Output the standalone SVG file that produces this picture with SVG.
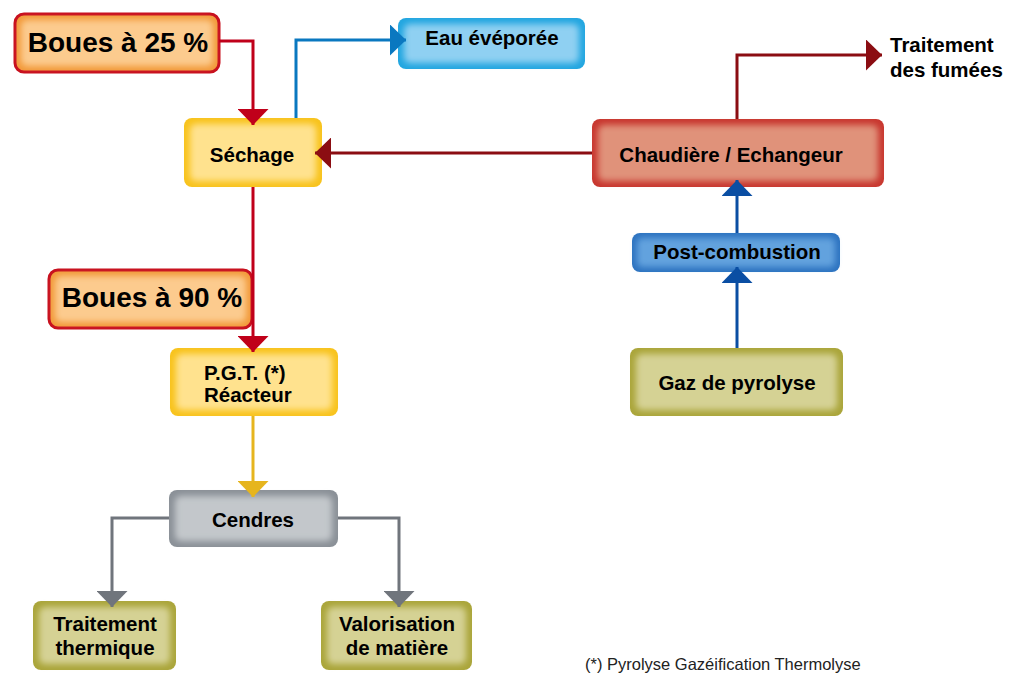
<svg xmlns="http://www.w3.org/2000/svg" width="1010" height="675" viewBox="0 0 1010 675">
<style>
text{font-family:"Liberation Sans",Arial,sans-serif;font-weight:bold;fill:#000}
.big{font-size:28px}
.n{font-size:20.5px}
.foot{font-size:16.5px;font-weight:normal;fill:#222}
.c{fill:none;stroke-width:3}
.blur{filter:url(#soft)}
</style>
<defs>
<filter id="soft" x="-20%" y="-20%" width="140%" height="140%"><feGaussianBlur stdDeviation="3"/></filter>
<marker id="aRed" viewBox="0 0 16 31" refX="16" refY="15.5" markerWidth="16" markerHeight="31" markerUnits="userSpaceOnUse" orient="auto"><path d="M0,0L16,15.5L0,31z" fill="#c0001a"/></marker>
<marker id="aDark" viewBox="0 0 16 31" refX="16" refY="15.5" markerWidth="16" markerHeight="31" markerUnits="userSpaceOnUse" orient="auto"><path d="M0,0L16,15.5L0,31z" fill="#8b0d12"/></marker>
<marker id="aLBlue" viewBox="0 0 16 31" refX="16" refY="15.5" markerWidth="16" markerHeight="31" markerUnits="userSpaceOnUse" orient="auto"><path d="M0,0L16,15.5L0,31z" fill="#0a78c0"/></marker>
<marker id="aBlue" viewBox="0 0 16 31" refX="16" refY="15.5" markerWidth="16" markerHeight="31" markerUnits="userSpaceOnUse" orient="auto"><path d="M0,0L16,15.5L0,31z" fill="#0a4ea3"/></marker>
<marker id="aYel" viewBox="0 0 16 31" refX="16" refY="15.5" markerWidth="16" markerHeight="31" markerUnits="userSpaceOnUse" orient="auto"><path d="M0,0L16,15.5L0,31z" fill="#e6b51e"/></marker>
<marker id="aGray" viewBox="0 0 16 31" refX="16" refY="15.5" markerWidth="16" markerHeight="31" markerUnits="userSpaceOnUse" orient="auto"><path d="M0,0L16,15.5L0,31z" fill="#70757c"/></marker>
</defs>
<rect width="1010" height="675" fill="#fff"/>

<g id="boues25">
<rect x="15" y="14" width="204" height="58" rx="9" fill="#f29a3a" stroke="#c8101e" stroke-width="3"/>
<rect x="21" y="20" width="192" height="46" rx="6" fill="#fccb8e" class="blur"/>
<text class="big" x="118" y="52" text-anchor="middle">Boues à 25 %</text>
</g>

<g id="sechage">
<rect x="184" y="118" width="138" height="69" rx="8" fill="#f8c31c"/>
<rect x="190" y="124" width="126" height="57" rx="6" fill="#ffe28e" class="blur"/>
<text class="n" x="252" y="162" text-anchor="middle">Séchage</text>
</g>

<g id="eau">
<rect x="398" y="18" width="187" height="51" rx="8" fill="#22a6e0"/>
<rect x="404" y="24" width="175" height="39" rx="6" fill="#8fd0f2" class="blur"/>
<text class="n" x="492" y="45" text-anchor="middle">Eau évéporée</text>
</g>

<g id="chaudiere">
<rect x="592" y="119" width="292" height="68" rx="8" fill="#c8372f"/>
<rect x="598" y="125" width="280" height="56" rx="6" fill="#e0927a" class="blur"/>
<text class="n" x="731" y="162" text-anchor="middle">Chaudière / Echangeur</text>
</g>

<g id="fumees">
<text class="n" x="890" y="52">Traitement</text>
<text class="n" x="890" y="77">des fumées</text>
</g>

<g id="postcomb">
<rect x="632" y="233" width="208" height="39" rx="8" fill="#2d73c0"/>
<rect x="637" y="238" width="198" height="29" rx="5" fill="#62a2de" class="blur"/>
<text class="n" x="737" y="259" text-anchor="middle">Post-combustion</text>
</g>

<g id="gaz">
<rect x="630" y="348" width="213" height="68" rx="8" fill="#aaa53a"/>
<rect x="636" y="354" width="201" height="56" rx="6" fill="#d5d294" class="blur"/>
<text class="n" x="737" y="390" text-anchor="middle">Gaz de pyrolyse</text>
</g>

<g id="boues90">
<rect x="49" y="270" width="203" height="58" rx="9" fill="#f29a3a" stroke="#c8101e" stroke-width="3"/>
<rect x="55" y="276" width="191" height="46" rx="6" fill="#fccb8e" class="blur"/>
<text class="big" x="152" y="307" text-anchor="middle">Boues à 90 %</text>
</g>

<g id="pgt">
<rect x="170" y="348" width="168" height="68" rx="8" fill="#f8c31c"/>
<rect x="176" y="354" width="156" height="56" rx="6" fill="#ffe28e" class="blur"/>
<text class="n" x="204" y="380">P.G.T. (*)</text>
<text class="n" x="204" y="402">Réacteur</text>
</g>

<g id="cendres">
<rect x="169" y="490" width="169" height="57" rx="8" fill="#8a9097"/>
<rect x="175" y="496" width="157" height="45" rx="6" fill="#c3c7cb" class="blur"/>
<text class="n" x="253" y="527" text-anchor="middle">Cendres</text>
</g>

<g id="thermique">
<rect x="33" y="601" width="143" height="69" rx="8" fill="#aaa53a"/>
<rect x="39" y="607" width="131" height="57" rx="6" fill="#d5d294" class="blur"/>
<text class="n" x="105" y="631" text-anchor="middle">Traitement</text>
<text class="n" x="105" y="655" text-anchor="middle">thermique</text>
</g>

<g id="valorisation">
<rect x="321" y="601" width="151" height="69" rx="8" fill="#aaa53a"/>
<rect x="327" y="607" width="139" height="57" rx="6" fill="#d5d294" class="blur"/>
<text class="n" x="397" y="631" text-anchor="middle">Valorisation</text>
<text class="n" x="397" y="655" text-anchor="middle">de matière</text>
</g>

<g id="connectors">
<path class="c" d="M219,41H253V125" stroke="#c0001a" marker-end="url(#aRed)"/>
<path class="c" d="M296,118V40H406" stroke="#0a78c0" marker-end="url(#aLBlue)"/>
<path class="c" d="M592,153H315" stroke="#8b0d12" marker-end="url(#aDark)"/>
<path class="c" d="M737,119V55H882" stroke="#8b0d12" marker-end="url(#aDark)"/>
<path class="c" d="M737,233V180" stroke="#0a4ea3" marker-end="url(#aBlue)"/>
<path class="c" d="M737,348V267" stroke="#0a4ea3" marker-end="url(#aBlue)"/>
<path class="c" d="M253,187V352" stroke="#c0001a" marker-end="url(#aRed)"/>
<path class="c" d="M253,416V497" stroke="#e6b51e" marker-end="url(#aYel)"/>
<path class="c" d="M169,518H112V607" stroke="#70757c" marker-end="url(#aGray)"/>
<path class="c" d="M338,518H399V607" stroke="#70757c" marker-end="url(#aGray)"/>
</g>

<text class="foot" x="585" y="670">(*) Pyrolyse Gazéification Thermolyse</text>
</svg>
